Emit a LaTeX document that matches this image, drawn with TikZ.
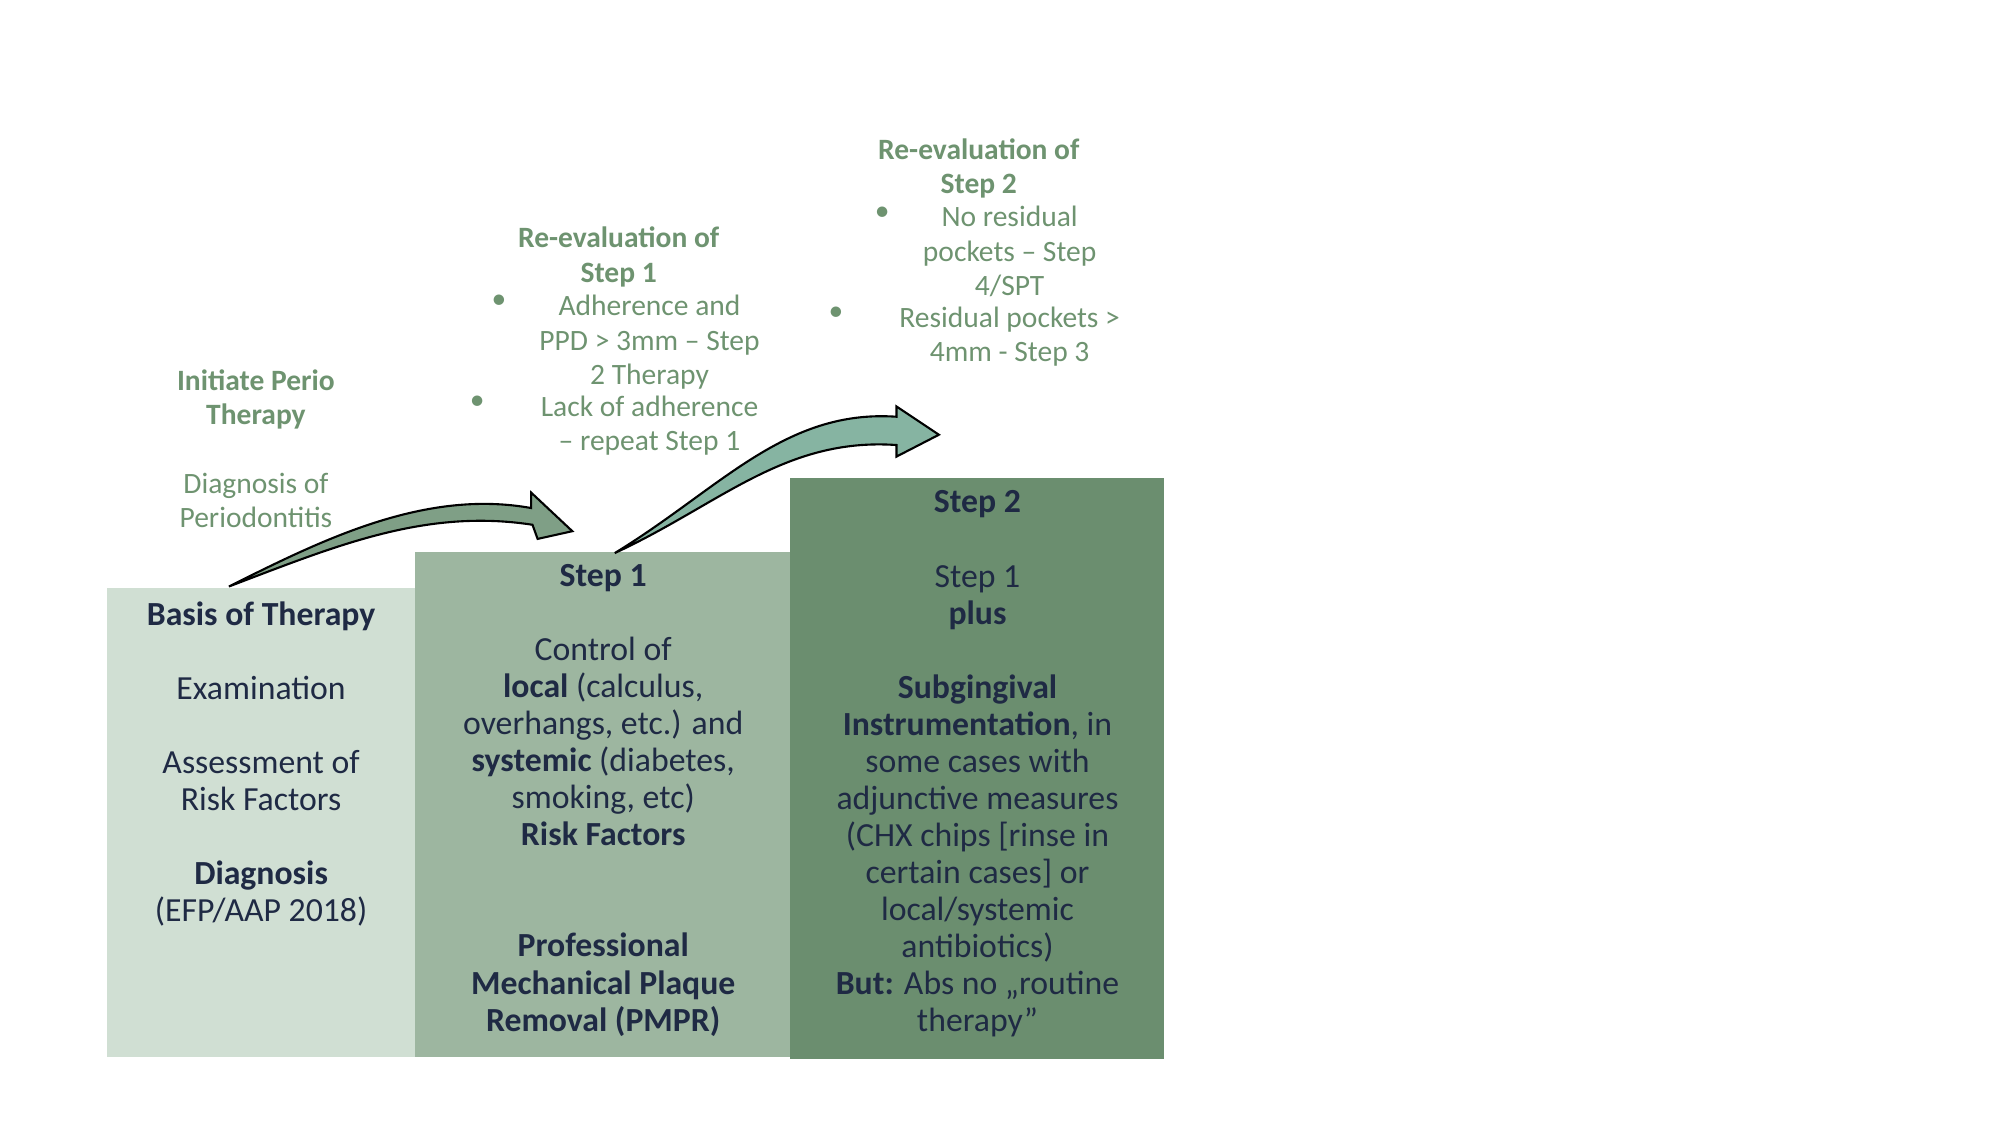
\documentclass[tikz,border=0pt]{standalone}
\usepackage{fontspec}
\setmainfont{Carlito}
\definecolor{boxA}{HTML}{D0DFD3}
\definecolor{boxB}{HTML}{9DB6A0}
\definecolor{boxC}{HTML}{6B8E6F}
\definecolor{navy}{HTML}{1F2A44}
\definecolor{sage}{HTML}{6E9370}
\definecolor{arrowA}{HTML}{7F9F86}
\definecolor{arrowB}{HTML}{86B4A2}
\tikzset{
  step/.style={inner sep=0pt, anchor=north west},
  body/.style={text=navy, align=center, font=\fontsize{9.6pt}{10.55pt}\selectfont, inner sep=0pt, anchor=north},
  note/.style={text=sage, align=center, font=\fontsize{8.4pt}{9.75pt}\selectfont, inner sep=0pt, anchor=north},
  bul/.style={text=sage, font=\fontsize{8.4pt}{9.75pt}\selectfont, inner sep=0pt, anchor=north}
}
\begin{document}
\begin{tikzpicture}[x=0.01286cm, y=-0.01286cm]
    \useasboundingbox (0,0) rectangle (1555,875);

    % Steps
    \fill[boxA] (83,457) rectangle (323,822);
    \fill[boxB] (323,429) rectangle (614,822);
    \fill[boxC] (614,372) rectangle (905,823);

    % Arrows between steps
    \filldraw[fill=arrowA, draw=black, line width=0.6pt] (178,456) .. controls (250,420) and (330,380) .. (413,395) -- (413,383) -- (445,413) -- (418,419) -- (414,408) .. controls (330,395) and (260,425) .. (178,456) -- cycle;
    \filldraw[fill=arrowB, draw=black, line width=0.6pt] (478,430) .. controls (560,380) and (610,318) .. (697,324) -- (697,316) -- (730,338) -- (697,355) -- (697,346) .. controls (610,340) and (560,392) .. (478,430) -- cycle;

    % Box texts
    \node[body] (basis) at (203,467) {\textbf{Basis of Therapy}\\[\baselineskip] Examination\\[\baselineskip] Assessment of\\ Risk Factors\\[\baselineskip] \textbf{Diagnosis}\\ (EFP/AAP 2018)};
    \node[body] (step1) at (469,438) {\textbf{Step 1}\\[\baselineskip] Control of\\ \textbf{local} (calculus,\\ overhangs, etc.) and\\ \textbf{systemic} (diabetes,\\ smoking, etc)\\ \textbf{Risk Factors}\\[2\baselineskip] \textbf{Professional}\\ \textbf{Mechanical Plaque}\\ \textbf{Removal (PMPR)}};
    \node[body] (step2) at (760,381) {\textbf{Step 2}\\[\baselineskip] Step 1\\ \textbf{plus}\\[\baselineskip] \textbf{Subgingival}\\ \textbf{Instrumentation}, in\\ some cases with\\ adjunctive measures\\ (CHX chips [rinse in\\ certain cases] or\\ local/systemic\\ antibiotics)\\ \textbf{But:} Abs no „routine\\ therapy”};

    % Notes above
    \node[note] (initiate) at (199,287) {\textbf{Initiate Perio}\\ \textbf{Therapy}\\[\baselineskip] Diagnosis of\\ Periodontitis};
    \node[note] (reeval1) at (481,176) {\textbf{Re-evaluation of}\\ \textbf{Step 1}};
    \node[note] (adher) at (505,229) {Adherence and\\ PPD > 3mm – Step\\ 2 Therapy};
    \node[note] (lack) at (505,307) {Lack of adherence\\ – repeat Step 1};
    \node[bul] (b1) at (388,229) {•};
    \node[bul] (b2) at (371,307) {•};
    \node[note] (reeval2) at (761,107) {\textbf{Re-evaluation of}\\ \textbf{Step 2}};
    \node[note] (nores) at (785,160) {No residual\\ pockets – Step\\ 4/SPT};
    \node[note] (resid) at (785,238) {Residual pockets >\\ 4mm - Step 3};
    \node[bul] (b3) at (686,160) {•};
    \node[bul] (b4) at (650,238) {•};
\end{tikzpicture}
\end{document}
